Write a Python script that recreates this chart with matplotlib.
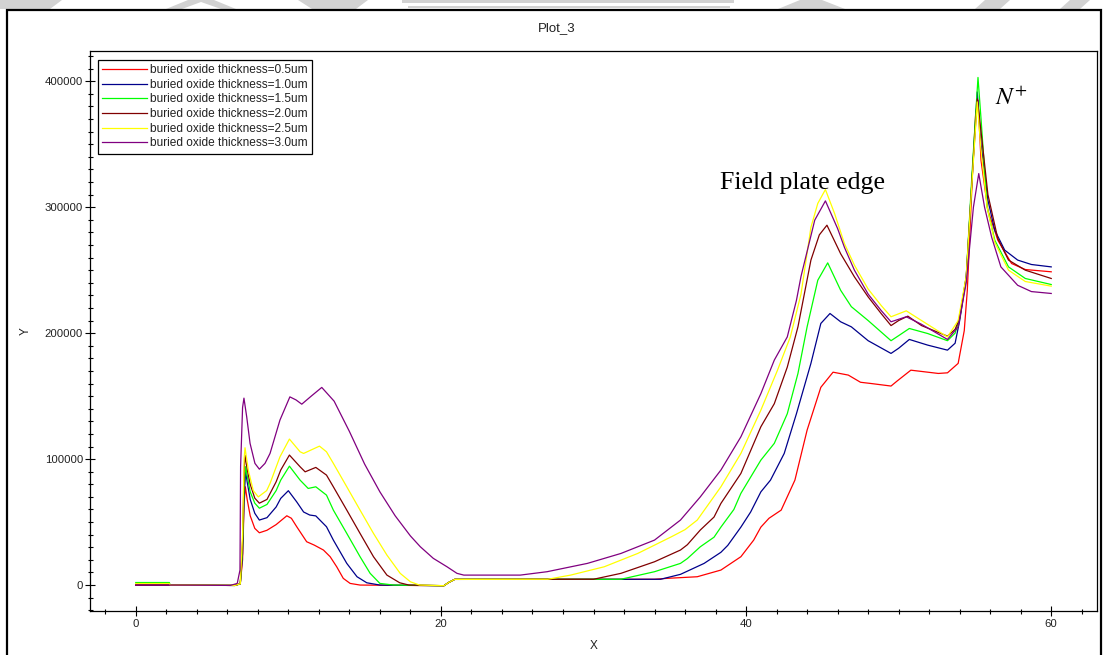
import matplotlib
matplotlib.use("Agg")
import matplotlib.pyplot as plt
from matplotlib.patches import Rectangle, Polygon
from matplotlib.ticker import MultipleLocator

plt.rcParams['font.family'] = ['Liberation Sans', 'DejaVu Sans']

# ---- data: electric field profile along X for each buried oxide thickness ----
x_05 = [0, 2.2, 6.5, 6.85, 7.0, 7.1, 7.18, 7.3, 7.5, 7.8, 8.1, 8.6, 9.2, 9.9, 10.2, 10.55, 11.2, 11.7, 12.3, 12.74,
        13.17, 13.6, 14.05, 14.7, 20.2, 20.5, 20.9, 34.0, 34.8, 36.8, 38.35, 39.66, 40.5, 40.97, 41.5, 42.3, 43.2, 44.0,
        44.9, 45.7, 46.7, 47.5, 48.2, 49.5, 49.9, 50.8, 52.6, 53.2, 53.9, 54.3, 54.5, 54.65, 54.85, 55.05, 55.2, 55.4,
        55.85, 56.5, 57.4, 58.3, 60.0]
y_05 = [0, 0, -300, 1000, 20000, 65000, 78000, 68000, 55000, 45000, 41500, 43500, 48000, 55000, 53000, 46300, 34400,
        31700, 27800, 22500, 14500, 5300, 1300, 0, -500, 2000, 4500, 4600, 5300, 6600, 11900, 22500, 35700, 46000,
        53000, 59500, 83300, 123000, 157000, 169000, 166700, 161000, 160000, 158000, 162000, 170600, 168000, 168500,
        176000, 202000, 234000, 274000, 330000, 375000, 385000, 337000, 297600, 273800, 255300, 250500, 248700]

x_10 = [0, 2.2, 6.5, 6.85, 7.0, 7.1, 7.2, 7.3, 7.5, 7.8, 8.1, 8.6, 9.2, 9.5, 10.0, 10.55, 11.0, 11.4, 11.8, 12.5,
        12.95, 13.83, 14.5, 15.14, 16.0, 20.2, 20.5, 20.9, 34.4, 35.7, 37.25, 38.35, 38.8, 39.66, 40.3, 40.97, 41.6,
        42.5, 43.3, 44.25, 44.9, 45.5, 46.2, 46.9, 48.0, 49.5, 50.0, 50.7, 51.9, 53.2, 53.7, 54.0, 54.43, 54.8, 55.15,
        55.4, 55.85, 56.3, 56.95, 57.8, 58.7, 60.0]
y_10 = [0, 0, -300, 1000, 25000, 70000, 90000, 82000, 68000, 57000, 51600, 53500, 62000, 68800, 74900, 66000, 58000,
        55600, 54900, 46300, 35700, 17200, 6600, 1800, 0, -500, 2000, 4500, 4600, 8500, 17200, 26000, 31500, 46000,
        58000, 74000, 83300, 104500, 136000, 176000, 207700, 215600, 209000, 205000, 194000, 183900, 188000, 195000,
        190500, 186500, 192000, 210000, 243600, 320000, 391500, 350000, 305600, 281700, 265900, 258000, 254500, 252600]

x_15 = [0, 2.2, 2.25, 6.5, 6.85, 7.0, 7.1, 7.2, 7.3, 7.5, 7.8, 8.1, 8.6, 9.2, 9.5, 10.07, 10.77, 11.3, 11.8, 12.5,
        12.95, 13.83, 14.7, 15.36, 16.0, 16.9, 20.2, 20.5, 20.9, 31.8, 34.0, 35.7, 36.15, 37.0, 37.9, 38.35, 39.2,
        39.66, 40.97, 41.85, 42.7, 43.4, 44.0, 44.7, 45.35, 46.2, 46.9, 48.0, 49.5, 50.0, 50.7, 51.9, 53.2, 53.7, 54.0,
        54.43, 54.8, 55.2, 55.4, 55.8, 56.3, 57.2, 58.3, 60.0]
y_15 = [2000, 2000, 0, -300, 1000, 30000, 80000, 94000, 87000, 74000, 65000, 61000, 64000, 75000, 83300, 94400,
        83300, 76700, 78000, 71400, 59500, 41000, 22500, 9300, 1300, 0, -500, 2000, 4500, 4600, 10600, 17200, 21000,
        30400, 38000, 46000, 60000, 72800, 99200, 112500, 136000, 168000, 205000, 242000, 255800, 234000, 221000,
        210000, 194000, 198000, 203700, 199700, 194000, 200000, 212000, 245000, 325000, 403000, 370000, 300000,
        273800, 252600, 243400, 238600]

x_20 = [0, 2.2, 6.5, 6.85, 7.0, 7.1, 7.16, 7.3, 7.5, 7.8, 8.1, 8.6, 9.2, 9.5, 10.07, 10.77, 11.1, 11.8, 12.5, 12.95,
        13.83, 14.7, 15.58, 16.46, 17.3, 17.9, 20.2, 20.5, 20.9, 30.0, 31.8, 34.0, 35.7, 36.15, 37.0, 37.9, 38.35,
        39.66, 40.97, 41.85, 42.7, 43.4, 44.25, 44.8, 45.3, 46.2, 47.1, 48.0, 48.85, 49.5, 50.0, 50.6, 51.5, 53.2,
        53.7, 54.0, 54.43, 54.8, 55.15, 55.4, 55.85, 56.5, 57.2, 58.3, 60.0]
y_20 = [0, 0, -300, 1000, 35000, 90000, 103000, 92000, 80000, 69000, 65000, 68000, 82000, 91300, 103200, 93900,
        89900, 93400, 87300, 78000, 59500, 41000, 22500, 7900, 1800, 0, -500, 2000, 4500, 4600, 9300, 18500, 27800,
        32000, 43700, 54000, 64800, 88600, 125700, 144000, 173000, 205000, 258000, 278000, 285700, 263000, 244700,
        228800, 215600, 206000, 210000, 213500, 206000, 197600, 203000, 212000, 245000, 320000, 386000, 360000,
        310000, 275000, 258000, 250000, 243400]

x_25 = [0, 2.2, 2.25, 6.5, 6.85, 7.0, 7.1, 7.16, 7.38, 7.7, 8.03, 8.58, 8.8, 9.45, 10.07, 10.77, 11.0, 12.04, 12.5,
        12.95, 13.83, 14.7, 15.58, 16.46, 17.33, 18.0, 18.6, 20.2, 20.5, 20.9, 27.0, 28.5, 30.7, 32.9, 35.1, 36.0,
        36.8, 38.35, 39.66, 40.97, 42.06, 42.9, 43.6, 44.25, 44.7, 45.2, 45.8, 46.45, 47.1, 48.0, 48.85, 49.5, 50.5,
        51.5, 53.2, 53.9, 54.43, 54.8, 55.15, 55.4, 55.8, 56.3, 57.2, 58.3, 60.0]
y_25 = [1200, 1200, 0, -300, 1000, 40000, 100000, 109000, 91000, 75000, 70000, 75000, 80700, 101800, 115900, 105800,
        104500, 110300, 105800, 96600, 78000, 59500, 41000, 23800, 9300, 2600, 0, -500, 2000, 4500, 4600, 7900,
        14500, 25100, 38300, 44000, 51600, 78000, 104500, 138900, 170600, 197000, 231000, 284000, 303000, 314000,
        295000, 271000, 254000, 235000, 222000, 213000, 217700, 210000, 197000, 210000, 245000, 318000, 383600,
        345000, 300000, 272000, 250000, 241000, 237300]

x_30 = [0, 2.2, 6.2, 6.65, 6.83, 6.87, 7.0, 7.09, 7.27, 7.49, 7.81, 8.1, 8.47, 8.8, 9.45, 10.1, 10.5, 10.88, 11.5,
        12.19, 13.0, 14.0, 15.0, 16.0, 17.0, 18.0, 18.65, 19.5, 20.4, 21.05, 21.5, 25.2, 26.96, 29.6, 31.8, 34.0,
        35.7, 37.0, 38.35, 39.66, 40.97, 41.85, 42.7, 43.3, 43.6, 44.5, 45.2, 46.0, 46.45, 47.1, 48.0, 48.85, 49.5,
        50.5, 51.5, 53.2, 53.9, 54.43, 54.9, 55.25, 55.63, 56.1, 56.7, 57.8, 58.7, 60.0]
y_30 = [0, 0, -300, 1300, 11900, 94000, 141000, 148400, 133600, 112500, 96600, 92000, 96600, 104500, 131000, 149400,
        147000, 143600, 150000, 156900, 146000, 122000, 96000, 74000, 55000, 39000, 30400, 21200, 14500, 9300, 7900,
        7900, 10600, 17200, 25100, 35700, 51600, 70000, 91300, 117700, 152000, 178600, 197000, 226000, 245000,
        289700, 305000, 283000, 268000, 250000, 231000, 218000, 209000, 213000, 207000, 195000, 205000, 240000,
        300000, 326700, 300000, 276000, 252600, 238000, 233000, 231500]

labels = ["buried oxide thickness=0.5um", "buried oxide thickness=1.0um", "buried oxide thickness=1.5um",
          "buried oxide thickness=2.0um", "buried oxide thickness=2.5um", "buried oxide thickness=3.0um"]
colors = ["#ff0000", "#00008b", "#00ff00", "#800000", "#ffff00", "#800080"]
series = [(x_05, y_05), (x_10, y_10), (x_15, y_15), (x_20, y_20), (x_25, y_25), (x_30, y_30)]

# ---- figure layout (pixel based) ----
W, H = 1105, 655
fig = plt.figure(figsize=(W / 100, H / 100), dpi=100)


def fx(px):
    return px / W


def fy(py):
    return 1 - py / H


# faint grey header decoration along the top edge
deco = [
    [(0, 0), (62, 0), (50, 9), (0, 9)],
    [(166, 9), (188, 0), (214, 0), (236, 9), (221, 9), (201, 2), (182, 9)],
    [(298, 0), (368, 0), (356, 9), (312, 9)],
    [(402, 0), (734, 0), (734, 3), (402, 3)],
    [(408, 6), (730, 6), (730, 8), (408, 8)],
    [(778, 9), (800, 0), (822, 0), (845, 9)],
    [(975, 9), (985, 0), (1010, 0), (1000, 9)],
    [(1060, 9), (1070, 0), (1090, 0), (1080, 9)],
]
for pts in deco:
    fig.add_artist(Polygon([(fx(a), fy(b)) for a, b in pts], closed=True, transform=fig.transFigure,
                           facecolor="#d2d2d2", edgecolor="none", zorder=0))

# outer frame
fig.add_artist(Rectangle((fx(7), fy(700)), fx(1101) - fx(7), fy(10) - fy(700), transform=fig.transFigure,
                         fill=False, edgecolor="black", linewidth=1.6, clip_on=False))

ax = fig.add_axes([fx(90), fy(611), fx(1097) - fx(90), fy(51) - fy(611)])

for (xs, ys), lab, col in zip(series, labels, colors):
    ax.plot(xs, ys, color=col, linewidth=0.9, label=lab)

ax.set_xlim(-3, 63)
ax.set_ylim(-20600, 424000)
ax.xaxis.set_major_locator(MultipleLocator(20))
ax.xaxis.set_minor_locator(MultipleLocator(2))
ax.yaxis.set_major_locator(MultipleLocator(100000))
ax.yaxis.set_minor_locator(MultipleLocator(10000))
ax.ticklabel_format(style="plain", useOffset=False)

ax.tick_params(which="both", direction="inout", top=False, right=False, colors="black", labelcolor="#222222",
               labelsize=8.2)
ax.tick_params(which="major", length=7.2, width=0.8)
ax.tick_params(which="minor", length=3.6, width=0.8)
ax.tick_params(axis="y", which="both", pad=1.5)
ax.tick_params(axis="x", which="both", pad=2)
for s in ax.spines.values():
    s.set_linewidth(0.9)

fig.text(fx(557), fy(28), "Plot_3", fontsize=9.5, ha="center", va="center", color="#222222")
ax.set_xlabel("X", fontsize=8.5, labelpad=8, color="#222222")
ax.set_ylabel("Y", fontsize=8.5, labelpad=9, color="#222222")

ax.text(38.28, 314800, "Field plate edge", fontsize=18.6, family=["Liberation Serif", "DejaVu Serif"],
        ha="left", va="baseline")
ax.text(56.3, 381000, r"$N^{+}$", fontsize=18, math_fontfamily="stix", ha="left", va="baseline")

leg = ax.legend(loc="upper left", bbox_to_anchor=(fx(98), fy(60)), bbox_transform=fig.transFigure,
                borderaxespad=0, fontsize=8.6, handlelength=3.75, handletextpad=0.25, labelspacing=0.22,
                borderpad=0.35, fancybox=False, framealpha=1, edgecolor="black")
leg.get_frame().set_linewidth(0.9)
for t in leg.get_texts():
    t.set_color("#222222")

fig.savefig("out.png", dpi=100)
